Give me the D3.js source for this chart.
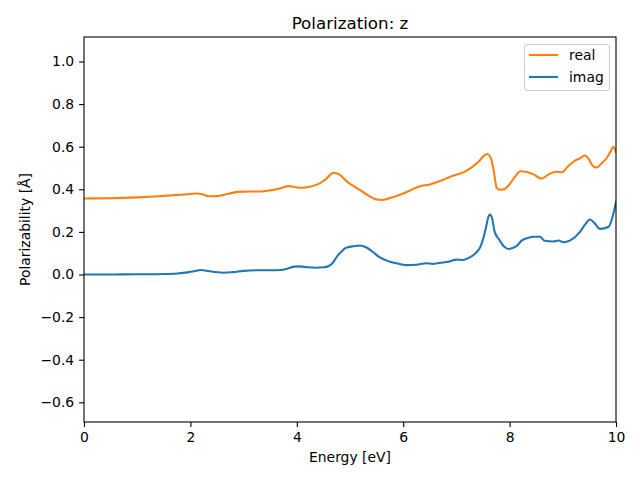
<!DOCTYPE html>
<html><head><meta charset="utf-8">
<script src="https://cdn.jsdelivr.net/npm/d3@7"></script>
<style>body{margin:0;background:#fff}svg{display:block}text{font-family:"DejaVu Sans",sans-serif;fill:#000}</style>
</head><body>
<svg id="c" width="640" height="480"></svg>
<script>
const realE = [0,0.5,1,1.25,1.5,1.8,2.0,2.13,2.22,2.35,2.5,2.7,2.88,3.1,3.32,3.5,3.7,3.85,3.95,4.07,4.2,4.39,4.54,4.69,4.76,4.81,4.95,5.07,5.2,5.35,5.5,5.6,5.7,5.85,6.0,6.15,6.3,6.5,6.65,6.8,6.95,7.05,7.15,7.3,7.42,7.52,7.58,7.64,7.7,7.76,7.82,7.9,7.98,8.1,8.2,8.3,8.45,8.6,8.72,8.88,8.98,9.1,9.23,9.32,9.42,9.48,9.57,9.64,9.73,9.83,9.9,9.95,10];
const realV = [0.357,0.358,0.362,0.365,0.369,0.374,0.378,0.380,0.377,0.367,0.368,0.378,0.388,0.390,0.390,0.395,0.405,0.415,0.411,0.407,0.410,0.423,0.446,0.478,0.474,0.468,0.435,0.415,0.395,0.370,0.352,0.350,0.355,0.366,0.380,0.397,0.413,0.423,0.435,0.450,0.465,0.472,0.482,0.505,0.530,0.558,0.566,0.552,0.490,0.405,0.398,0.400,0.418,0.458,0.485,0.482,0.470,0.450,0.468,0.482,0.480,0.508,0.535,0.545,0.559,0.545,0.508,0.502,0.522,0.548,0.578,0.600,0.575];
const imagE = [0,0.5,1,1.25,1.5,1.75,1.95,2.07,2.19,2.3,2.45,2.63,2.8,3.0,3.26,3.5,3.7,3.82,3.95,4.05,4.2,4.35,4.51,4.6,4.66,4.76,4.85,4.92,5.07,5.19,5.3,5.42,5.56,5.7,5.85,6.07,6.25,6.44,6.55,6.7,6.85,7.0,7.13,7.25,7.38,7.45,7.5,7.56,7.6,7.63,7.67,7.72,7.8,7.9,7.98,8.06,8.13,8.23,8.35,8.45,8.57,8.66,8.82,8.92,9.01,9.14,9.32,9.42,9.51,9.6,9.7,9.86,9.92,9.96,10];
const imagV = [0.000,0.000,0.001,0.001,0.002,0.005,0.010,0.015,0.021,0.018,0.012,0.008,0.011,0.017,0.020,0.020,0.021,0.027,0.037,0.038,0.034,0.032,0.034,0.040,0.050,0.086,0.110,0.125,0.133,0.136,0.128,0.108,0.080,0.064,0.054,0.044,0.046,0.053,0.050,0.055,0.060,0.070,0.068,0.080,0.105,0.130,0.165,0.225,0.270,0.282,0.265,0.200,0.165,0.130,0.120,0.125,0.133,0.160,0.172,0.177,0.177,0.158,0.155,0.160,0.151,0.160,0.199,0.235,0.258,0.240,0.214,0.224,0.258,0.295,0.340];
const xTicks = [0,2,4,6,8,10];
const yTicks = [-0.6,-0.4,-0.2,0.0,0.2,0.4,0.6,0.8,1.0];
const seriesNames = ["real","imag"];
const seriesColors = ["#ff7f0e","#1f77b4"];

const svg = d3.select("#c");
const L=84,R=616,T=37,B=422;
const x = d3.scaleLinear().domain([0,10]).range([L,R]);
const y = d3.scaleLinear().domain([-0.6925,1.115]).range([B,T]);

const fmt = v => { const s = d3.format(".1f")(v); return s.replace("-", "\u2212"); };

const line = d3.line().x(d=>x(d[0])).y(d=>y(d[1])).curve(d3.curveMonotoneX);
const data = [d3.zip(realE, realV), d3.zip(imagE, imagV)];
const g = svg.append("g");
g.append("clipPath").attr("id","clip").append("rect").attr("x",L).attr("y",T).attr("width",R-L).attr("height",B-T);
data.forEach((d,i)=>{
  g.append("path").attr("d",line(d)).attr("fill","none").attr("stroke",seriesColors[i])
   .attr("stroke-width",2.08).attr("stroke-linejoin","round").attr("stroke-linecap","square").attr("clip-path","url(#clip)");
});

const xa = svg.append("g").attr("transform",`translate(0,${B})`)
  .call(d3.axisBottom(x).tickValues(xTicks).tickFormat(d3.format("d")).tickSizeOuter(0).tickSize(4.9).tickPadding(4.9));
const ya = svg.append("g").attr("transform",`translate(${L},0)`)
  .call(d3.axisLeft(y).tickValues(yTicks).tickFormat(fmt).tickSizeOuter(0).tickSize(4.9).tickPadding(4.9));
[xa,ya].forEach(a=>{a.select(".domain").remove();a.selectAll("line").attr("stroke","#000").attr("stroke-width",1.1);
  a.selectAll("text").attr("font-size","13.9px").attr("font-family","DejaVu Sans").attr("fill","#000");});

svg.append("rect").attr("x",L).attr("y",T).attr("width",R-L).attr("height",B-T)
  .attr("fill","none").attr("stroke","#000").attr("stroke-width",1.1);

svg.append("text").attr("x",(L+R)/2).attr("y",29).attr("text-anchor","middle").attr("font-size","16.7px").text("Polarization: z");
svg.append("text").attr("x",(L+R)/2).attr("y",462).attr("text-anchor","middle").attr("font-size","13.9px").text("Energy [eV]");
svg.append("text").attr("transform",`translate(30,${(T+B)/2}) rotate(-90)`).attr("text-anchor","middle").attr("font-size","13.9px").text("Polarizability [Å]");

const lg = svg.append("g");
lg.append("rect").attr("x",524.5).attr("y",44.5).attr("width",85).attr("height",46).attr("rx",2.5)
  .attr("fill","#fff").attr("fill-opacity",0.8).attr("stroke","#ccc").attr("stroke-width",1);
seriesNames.forEach((n,i)=>{
  const yy = 55 + i*22;
  lg.append("line").attr("x1",529).attr("x2",558).attr("y1",yy).attr("y2",yy).attr("stroke",seriesColors[i]).attr("stroke-width",2.08);
  lg.append("text").attr("x",569).attr("y",yy+5).attr("font-size","13.9px").text(n);
});
</script>
</body></html>
